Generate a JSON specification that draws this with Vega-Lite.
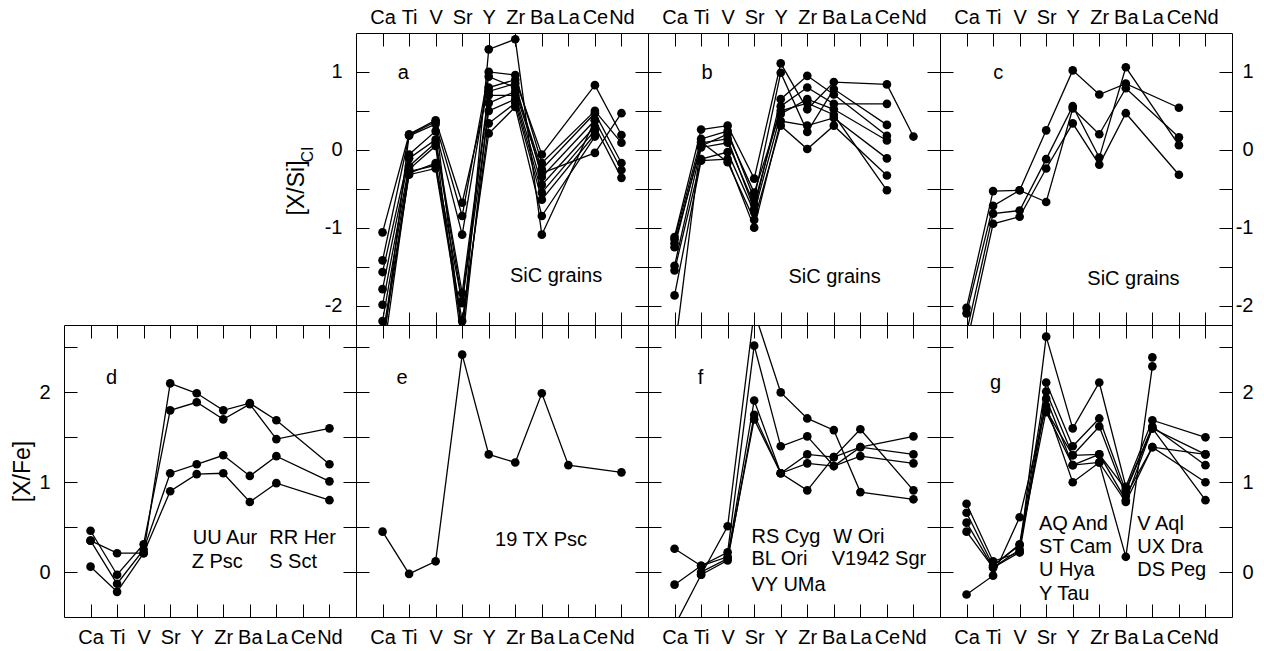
{
"$schema":"https://vega.github.io/schema/vega-lite/v6.json",
"padding":{"left":11,"top":6,"right":5,"bottom":5},
"background":"white",
"config":{
 "view":{"stroke":"black","strokeWidth":1},
 "axis":{"domain":false,"grid":false,"tickColor":"black","tickSize":-13,"tickWidth":1,"labelColor":"black","labelFont":"Liberation Sans","labelFontSize":20,"titleFont":"Liberation Sans","titleFontSize":23,"titleFontWeight":"normal","titleColor":"black","labelFlush":false,"labelOverlap":false,"labelBound":false},
 "text":{"font":"Liberation Sans","fontSize":20,"color":"black"}
},
"datasets":{
"lines":[
{"p":"a","s":"a1","i":0,"v":-1.06},{"p":"a","s":"a1","i":1,"v":0.20},{"p":"a","s":"a1","i":2,"v":0.38},{"p":"a","s":"a1","i":3,"v":-0.68},{"p":"a","s":"a1","i":4,"v":0.80},{"p":"a","s":"a1","i":5,"v":0.90},{"p":"a","s":"a1","i":6,"v":-0.06},{"p":"a","s":"a1","i":8,"v":0.83},{"p":"a","s":"a1","i":9,"v":0.19},
{"p":"a","s":"a2","i":0,"v":-1.42},{"p":"a","s":"a2","i":1,"v":0.18},{"p":"a","s":"a2","i":2,"v":0.33},{"p":"a","s":"a2","i":3,"v":-0.85},{"p":"a","s":"a2","i":4,"v":1.00},{"p":"a","s":"a2","i":5,"v":0.96},{"p":"a","s":"a2","i":6,"v":-0.17},{"p":"a","s":"a2","i":8,"v":0.50},{"p":"a","s":"a2","i":9,"v":0.09},
{"p":"a","s":"a3","i":0,"v":-1.57},{"p":"a","s":"a3","i":1,"v":-0.06},{"p":"a","s":"a3","i":2,"v":0.24},{"p":"a","s":"a3","i":3,"v":-1.09},{"p":"a","s":"a3","i":4,"v":0.94},{"p":"a","s":"a3","i":5,"v":0.80},{"p":"a","s":"a3","i":6,"v":-0.25},{"p":"a","s":"a3","i":8,"v":0.47},{"p":"a","s":"a3","i":9,"v":-0.17},
{"p":"a","s":"a4","i":0,"v":-1.79},{"p":"a","s":"a4","i":1,"v":-0.11},{"p":"a","s":"a4","i":2,"v":0.13},{"p":"a","s":"a4","i":3,"v":-1.84},{"p":"a","s":"a4","i":4,"v":0.75},{"p":"a","s":"a4","i":5,"v":0.85},{"p":"a","s":"a4","i":6,"v":-0.35},{"p":"a","s":"a4","i":8,"v":0.38},{"p":"a","s":"a4","i":9,"v":-0.26},
{"p":"a","s":"a5","i":0,"v":-1.99},{"p":"a","s":"a5","i":1,"v":-0.21},{"p":"a","s":"a5","i":2,"v":0.09},{"p":"a","s":"a5","i":3,"v":-1.94},{"p":"a","s":"a5","i":4,"v":0.70},{"p":"a","s":"a5","i":5,"v":0.70},{"p":"a","s":"a5","i":6,"v":-0.45},{"p":"a","s":"a5","i":8,"v":0.30},{"p":"a","s":"a5","i":9,"v":-0.36},
{"p":"a","s":"a6","i":0,"v":-2.40},{"p":"a","s":"a6","i":1,"v":-0.30},{"p":"a","s":"a6","i":2,"v":-0.17},{"p":"a","s":"a6","i":3,"v":-1.97},{"p":"a","s":"a6","i":4,"v":0.50},{"p":"a","s":"a6","i":5,"v":0.65},{"p":"a","s":"a6","i":6,"v":-0.55},{"p":"a","s":"a6","i":8,"v":0.25},
{"p":"a","s":"a7","i":0,"v":-2.50},{"p":"a","s":"a7","i":1,"v":-0.32},{"p":"a","s":"a7","i":2,"v":-0.24},{"p":"a","s":"a7","i":3,"v":-2.30},{"p":"a","s":"a7","i":4,"v":0.34},{"p":"a","s":"a7","i":5,"v":0.60},{"p":"a","s":"a7","i":6,"v":-0.64},{"p":"a","s":"a7","i":8,"v":0.20},
{"p":"a","s":"a8","i":0,"v":-2.60},{"p":"a","s":"a8","i":1,"v":0.19},{"p":"a","s":"a8","i":2,"v":0.36},{"p":"a","s":"a8","i":3,"v":-2.40},{"p":"a","s":"a8","i":4,"v":1.29},{"p":"a","s":"a8","i":5,"v":1.42},{"p":"a","s":"a8","i":6,"v":-1.09},{"p":"a","s":"a8","i":8,"v":0.38},
{"p":"a","s":"a9","i":0,"v":-2.70},{"p":"a","s":"a9","i":1,"v":-0.28},{"p":"a","s":"a9","i":2,"v":-0.20},{"p":"a","s":"a9","i":3,"v":-2.20},{"p":"a","s":"a9","i":4,"v":0.21},{"p":"a","s":"a9","i":5,"v":0.55},{"p":"a","s":"a9","i":6,"v":-0.85},{"p":"a","s":"a9","i":8,"v":0.17},
{"p":"a","s":"a10","i":0,"v":-2.20},{"p":"a","s":"a10","i":1,"v":-0.25},{"p":"a","s":"a10","i":2,"v":0.05},{"p":"a","s":"a10","i":3,"v":-2.50},{"p":"a","s":"a10","i":4,"v":0.60},{"p":"a","s":"a10","i":5,"v":0.75},{"p":"a","s":"a10","i":6,"v":-0.30},{"p":"a","s":"a10","i":8,"v":-0.04},{"p":"a","s":"a10","i":9,"v":0.47},
{"p":"b","s":"b1","i":0,"v":-1.12},{"p":"b","s":"b1","i":1,"v":0.26},{"p":"b","s":"b1","i":2,"v":0.31},{"p":"b","s":"b1","i":3,"v":-0.37},{"p":"b","s":"b1","i":4,"v":1.11},{"p":"b","s":"b1","i":5,"v":0.52},{"p":"b","s":"b1","i":6,"v":0.87},{"p":"b","s":"b1","i":8,"v":0.84},{"p":"b","s":"b1","i":9,"v":0.17},
{"p":"b","s":"b2","i":0,"v":-1.15},{"p":"b","s":"b2","i":1,"v":0.14},{"p":"b","s":"b2","i":2,"v":0.24},{"p":"b","s":"b2","i":3,"v":-0.63},{"p":"b","s":"b2","i":4,"v":0.99},{"p":"b","s":"b2","i":5,"v":0.23},{"p":"b","s":"b2","i":6,"v":0.78},{"p":"b","s":"b2","i":8,"v":0.32},
{"p":"b","s":"b3","i":0,"v":-1.25},{"p":"b","s":"b3","i":1,"v":0.09},{"p":"b","s":"b3","i":2,"v":0.14},{"p":"b","s":"b3","i":3,"v":-0.76},{"p":"b","s":"b3","i":4,"v":0.65},{"p":"b","s":"b3","i":5,"v":0.95},{"p":"b","s":"b3","i":6,"v":0.71},{"p":"b","s":"b3","i":8,"v":0.18},
{"p":"b","s":"b4","i":0,"v":-1.49},{"p":"b","s":"b4","i":1,"v":0.03},{"p":"b","s":"b4","i":2,"v":0.09},{"p":"b","s":"b4","i":3,"v":-0.70},{"p":"b","s":"b4","i":4,"v":0.56},{"p":"b","s":"b4","i":5,"v":0.80},{"p":"b","s":"b4","i":6,"v":0.59},{"p":"b","s":"b4","i":8,"v":0.59},
{"p":"b","s":"b5","i":0,"v":-1.55},{"p":"b","s":"b5","i":1,"v":-0.12},{"p":"b","s":"b5","i":2,"v":-0.03},{"p":"b","s":"b5","i":3,"v":-0.80},{"p":"b","s":"b5","i":4,"v":0.46},{"p":"b","s":"b5","i":5,"v":0.65},{"p":"b","s":"b5","i":6,"v":0.52},{"p":"b","s":"b5","i":8,"v":0.12},
{"p":"b","s":"b6","i":0,"v":-1.87},{"p":"b","s":"b6","i":1,"v":-0.14},{"p":"b","s":"b6","i":2,"v":-0.12},{"p":"b","s":"b6","i":3,"v":-1.00},{"p":"b","s":"b6","i":4,"v":0.37},{"p":"b","s":"b6","i":5,"v":0.31},{"p":"b","s":"b6","i":6,"v":0.41},{"p":"b","s":"b6","i":8,"v":-0.11},
{"p":"b","s":"b7","i":0,"v":-2.60},{"p":"b","s":"b7","i":1,"v":0.10},{"p":"b","s":"b7","i":2,"v":-0.16},{"p":"b","s":"b7","i":3,"v":-0.90},{"p":"b","s":"b7","i":4,"v":0.31},{"p":"b","s":"b7","i":5,"v":0.01},{"p":"b","s":"b7","i":6,"v":0.31},{"p":"b","s":"b7","i":8,"v":-0.33},
{"p":"b","s":"b8","i":0,"v":-1.20},{"p":"b","s":"b8","i":1,"v":0.05},{"p":"b","s":"b8","i":2,"v":0.20},{"p":"b","s":"b8","i":3,"v":-0.55},{"p":"b","s":"b8","i":4,"v":0.50},{"p":"b","s":"b8","i":5,"v":0.60},{"p":"b","s":"b8","i":6,"v":0.45},{"p":"b","s":"b8","i":8,"v":-0.52},
{"p":"c","s":"c1","i":0,"v":-2.03},{"p":"c","s":"c1","i":1,"v":-0.53},{"p":"c","s":"c1","i":2,"v":-0.52},{"p":"c","s":"c1","i":3,"v":-0.67},{"p":"c","s":"c1","i":4,"v":0.53},{"p":"c","s":"c1","i":5,"v":0.20},{"p":"c","s":"c1","i":6,"v":0.79},{"p":"c","s":"c1","i":8,"v":0.16},
{"p":"c","s":"c2","i":0,"v":-2.10},{"p":"c","s":"c2","i":1,"v":-0.72},{"p":"c","s":"c2","i":2,"v":-0.52},{"p":"c","s":"c2","i":3,"v":0.25},{"p":"c","s":"c2","i":4,"v":1.02},{"p":"c","s":"c2","i":5,"v":0.71},{"p":"c","s":"c2","i":6,"v":0.85},{"p":"c","s":"c2","i":8,"v":0.54},
{"p":"c","s":"c3","i":0,"v":-2.35},{"p":"c","s":"c3","i":1,"v":-0.82},{"p":"c","s":"c3","i":2,"v":-0.78},{"p":"c","s":"c3","i":3,"v":-0.12},{"p":"c","s":"c3","i":4,"v":0.56},{"p":"c","s":"c3","i":5,"v":-0.10},{"p":"c","s":"c3","i":6,"v":1.06},{"p":"c","s":"c3","i":8,"v":0.06},
{"p":"c","s":"c4","i":0,"v":-2.50},{"p":"c","s":"c4","i":1,"v":-0.95},{"p":"c","s":"c4","i":2,"v":-0.86},{"p":"c","s":"c4","i":3,"v":-0.24},{"p":"c","s":"c4","i":4,"v":0.34},{"p":"c","s":"c4","i":5,"v":-0.19},{"p":"c","s":"c4","i":6,"v":0.47},{"p":"c","s":"c4","i":8,"v":-0.32},
{"p":"d","s":"d1","i":0,"v":0.35},{"p":"d","s":"d1","i":1,"v":0.21},{"p":"d","s":"d1","i":2,"v":0.21},{"p":"d","s":"d1","i":3,"v":2.10},{"p":"d","s":"d1","i":4,"v":1.99},{"p":"d","s":"d1","i":5,"v":1.80},{"p":"d","s":"d1","i":6,"v":1.88},{"p":"d","s":"d1","i":7,"v":1.69},{"p":"d","s":"d1","i":9,"v":1.20},
{"p":"d","s":"d2","i":0,"v":0.46},{"p":"d","s":"d2","i":1,"v":-0.03},{"p":"d","s":"d2","i":2,"v":0.31},{"p":"d","s":"d2","i":3,"v":1.80},{"p":"d","s":"d2","i":4,"v":1.89},{"p":"d","s":"d2","i":5,"v":1.70},{"p":"d","s":"d2","i":6,"v":1.87},{"p":"d","s":"d2","i":7,"v":1.48},{"p":"d","s":"d2","i":9,"v":1.60},
{"p":"d","s":"d3","i":0,"v":0.35},{"p":"d","s":"d3","i":1,"v":-0.13},{"p":"d","s":"d3","i":2,"v":0.25},{"p":"d","s":"d3","i":3,"v":1.10},{"p":"d","s":"d3","i":4,"v":1.20},{"p":"d","s":"d3","i":5,"v":1.30},{"p":"d","s":"d3","i":6,"v":1.07},{"p":"d","s":"d3","i":7,"v":1.29},{"p":"d","s":"d3","i":9,"v":1.01},
{"p":"d","s":"d4","i":0,"v":0.06},{"p":"d","s":"d4","i":1,"v":-0.22},{"p":"d","s":"d4","i":2,"v":0.21},{"p":"d","s":"d4","i":3,"v":0.90},{"p":"d","s":"d4","i":4,"v":1.09},{"p":"d","s":"d4","i":5,"v":1.10},{"p":"d","s":"d4","i":6,"v":0.78},{"p":"d","s":"d4","i":7,"v":0.99},{"p":"d","s":"d4","i":9,"v":0.80},
{"p":"e","s":"e1","i":0,"v":0.45},{"p":"e","s":"e1","i":1,"v":-0.02},{"p":"e","s":"e1","i":2,"v":0.12},{"p":"e","s":"e1","i":3,"v":2.42},{"p":"e","s":"e1","i":4,"v":1.31},{"p":"e","s":"e1","i":5,"v":1.22},{"p":"e","s":"e1","i":6,"v":1.99},{"p":"e","s":"e1","i":7,"v":1.19},{"p":"e","s":"e1","i":9,"v":1.11},
{"p":"f","s":"f1","i":0,"v":-0.60},{"p":"f","s":"f1","i":1,"v":-0.03},{"p":"f","s":"f1","i":2,"v":0.51},{"p":"f","s":"f1","i":3,"v":2.90},{"p":"f","s":"f1","i":4,"v":2.00},{"p":"f","s":"f1","i":5,"v":1.71},{"p":"f","s":"f1","i":6,"v":1.58},{"p":"f","s":"f1","i":7,"v":0.89},{"p":"f","s":"f1","i":9,"v":0.81},
{"p":"f","s":"f2","i":0,"v":0.26},{"p":"f","s":"f2","i":1,"v":0.07},{"p":"f","s":"f2","i":2,"v":0.22},{"p":"f","s":"f2","i":3,"v":2.52},{"p":"f","s":"f2","i":4,"v":1.40},{"p":"f","s":"f2","i":5,"v":1.51},{"p":"f","s":"f2","i":6,"v":1.18},{"p":"f","s":"f2","i":7,"v":1.39},{"p":"f","s":"f2","i":9,"v":1.31},
{"p":"f","s":"f3","i":0,"v":-0.14},{"p":"f","s":"f3","i":1,"v":0.07},{"p":"f","s":"f3","i":2,"v":0.17},{"p":"f","s":"f3","i":3,"v":1.91},{"p":"f","s":"f3","i":4,"v":1.10},{"p":"f","s":"f3","i":5,"v":1.31},{"p":"f","s":"f3","i":6,"v":1.28},{"p":"f","s":"f3","i":7,"v":1.39},{"p":"f","s":"f3","i":9,"v":1.51},
{"p":"f","s":"f4","i":1,"v":-0.03},{"p":"f","s":"f4","i":2,"v":0.13},{"p":"f","s":"f4","i":3,"v":1.75},{"p":"f","s":"f4","i":4,"v":1.10},{"p":"f","s":"f4","i":5,"v":0.91},{"p":"f","s":"f4","i":6,"v":1.28},{"p":"f","s":"f4","i":7,"v":1.59},{"p":"f","s":"f4","i":9,"v":0.91},
{"p":"f","s":"f5","i":1,"v":0.00},{"p":"f","s":"f5","i":2,"v":0.15},{"p":"f","s":"f5","i":3,"v":1.70},{"p":"f","s":"f5","i":4,"v":1.10},{"p":"f","s":"f5","i":5,"v":1.21},{"p":"f","s":"f5","i":6,"v":1.18},{"p":"f","s":"f5","i":7,"v":1.29},{"p":"f","s":"f5","i":9,"v":1.21},
{"p":"g","s":"g1","i":0,"v":0.76},{"p":"g","s":"g1","i":1,"v":0.12},{"p":"g","s":"g1","i":2,"v":0.22},{"p":"g","s":"g1","i":3,"v":2.62},{"p":"g","s":"g1","i":4,"v":1.60},{"p":"g","s":"g1","i":5,"v":2.11},{"p":"g","s":"g1","i":6,"v":0.95},{"p":"g","s":"g1","i":7,"v":1.69},{"p":"g","s":"g1","i":9,"v":1.50},
{"p":"g","s":"g2","i":0,"v":0.66},{"p":"g","s":"g2","i":1,"v":0.07},{"p":"g","s":"g2","i":2,"v":0.31},{"p":"g","s":"g2","i":3,"v":2.11},{"p":"g","s":"g2","i":4,"v":1.40},{"p":"g","s":"g2","i":5,"v":1.71},{"p":"g","s":"g2","i":6,"v":0.90},{"p":"g","s":"g2","i":7,"v":1.60},{"p":"g","s":"g2","i":9,"v":1.31},
{"p":"g","s":"g3","i":0,"v":0.55},{"p":"g","s":"g3","i":1,"v":0.05},{"p":"g","s":"g3","i":2,"v":0.25},{"p":"g","s":"g3","i":3,"v":2.01},{"p":"g","s":"g3","i":4,"v":1.30},{"p":"g","s":"g3","i":5,"v":1.62},{"p":"g","s":"g3","i":6,"v":0.85},{"p":"g","s":"g3","i":7,"v":1.39},{"p":"g","s":"g3","i":9,"v":1.31},
{"p":"g","s":"g4","i":0,"v":0.45},{"p":"g","s":"g4","i":1,"v":0.05},{"p":"g","s":"g4","i":2,"v":0.22},{"p":"g","s":"g4","i":3,"v":1.93},{"p":"g","s":"g4","i":4,"v":1.19},{"p":"g","s":"g4","i":5,"v":1.31},{"p":"g","s":"g4","i":6,"v":0.80},{"p":"g","s":"g4","i":7,"v":1.60},{"p":"g","s":"g4","i":9,"v":0.80},
{"p":"g","s":"g5","i":0,"v":-0.25},{"p":"g","s":"g5","i":1,"v":-0.04},{"p":"g","s":"g5","i":2,"v":0.61},{"p":"g","s":"g5","i":3,"v":1.85},{"p":"g","s":"g5","i":4,"v":1.00},{"p":"g","s":"g5","i":5,"v":1.22},{"p":"g","s":"g5","i":6,"v":0.17},{"p":"g","s":"g5","i":7,"v":2.29},
{"p":"g","s":"g6","i":1,"v":0.07},{"p":"g","s":"g6","i":2,"v":0.30},{"p":"g","s":"g6","i":3,"v":1.80},{"p":"g","s":"g6","i":4,"v":1.30},{"p":"g","s":"g6","i":5,"v":1.31},{"p":"g","s":"g6","i":6,"v":0.92},{"p":"g","s":"g6","i":7,"v":1.62},{"p":"g","s":"g6","i":9,"v":1.19},
{"p":"g","s":"g7","i":3,"v":1.78},{"p":"g","s":"g7","i":4,"v":1.19},{"p":"g","s":"g7","i":5,"v":1.22},{"p":"g","s":"g7","i":6,"v":0.78},{"p":"g","s":"g7","i":7,"v":1.39},{"p":"g","s":"g7","i":9,"v":1.00},
{"p":"g","s":"g8","i":7,"v":2.39}
],
"notes":[
{"p":"a","x":0.57,"y":0.99,"t":"a"},{"p":"a","x":4.8,"y":-1.62,"t":"SiC grains"},
{"p":"b","x":1.02,"y":0.99,"t":"b"},{"p":"b","x":4.29,"y":-1.63,"t":"SiC grains"},
{"p":"c","x":1.01,"y":0.99,"t":"c"},{"p":"c","x":4.55,"y":-1.66,"t":"SiC grains"},
{"p":"d","x":0.58,"y":2.16,"t":"d"},{"p":"d","x":3.85,"y":0.375,"t":"UU Aur"},{"p":"d","x":6.73,"y":0.375,"t":"RR Her"},{"p":"d","x":3.81,"y":0.115,"t":"Z Psc"},{"p":"d","x":6.73,"y":0.115,"t":"S Sct"},
{"p":"e","x":0.53,"y":2.16,"t":"e"},{"p":"e","x":4.24,"y":0.36,"t":"19 TX Psc"},
{"p":"f","x":0.87,"y":2.16,"t":"f"},{"p":"f","x":2.9,"y":0.39,"t":"RS Cyg"},{"p":"f","x":5.98,"y":0.39,"t":"W Ori"},{"p":"f","x":2.9,"y":0.15,"t":"BL Ori"},{"p":"f","x":5.92,"y":0.15,"t":"V1942 Sgr"},{"p":"f","x":2.9,"y":-0.14,"t":"VY UMa"},
{"p":"g","x":0.88,"y":2.1,"t":"g"},{"p":"g","x":2.73,"y":0.53,"t":"AQ And"},{"p":"g","x":2.73,"y":0.28,"t":"ST Cam"},{"p":"g","x":2.73,"y":0.02,"t":"U Hya"},{"p":"g","x":2.73,"y":-0.245,"t":"Y Tau"},{"p":"g","x":6.43,"y":0.53,"t":"V Aql"},{"p":"g","x":6.43,"y":0.28,"t":"UX Dra"},{"p":"g","x":6.43,"y":0.02,"t":"DS Peg"}
],
"ylab":[{"x":-3.23,"y":-0.49,"t":"[X/Si]"}],
"ysub":[{"x":-2.8,"y":-0.06,"t":"CI"}]
},
"concat":[
{"width":292,"height":292,"view":{"stroke":null},"data":{"values":[{"t":""}]},"mark":{"type":"text"},"encoding":{"text":{"field":"t"}}},
{"width":292,"height":292,
 "layer":[
  {"data":{"name":"lines"},"transform":[{"filter":"datum.p=='a'"}],"mark":{"type":"line","color":"black","strokeWidth":1.3,"clip":true},
   "encoding":{"x":{"field":"i","type":"quantitative","scale":{"domain":[-1,10],"nice":false,"zero":false},"axis":{"orient":"bottom","values":[0,1,2,3,4,5,6,7,8,9],"labels":false,"title":null}},
    "y":{"field":"v","type":"quantitative","scale":{"domain":[-2.25,1.5],"nice":false,"zero":false},"axis":{"orient":"left","values":[-2,-1.5,-1,-0.5,0,0.5,1],"labelExpr":"datum.value % 1 == 0 ? '' + datum.value : ''","labelPadding":27,"title":null}},
    "detail":{"field":"s","type":"nominal"}}},
  {"data":{"name":"lines"},"transform":[{"filter":"datum.p=='a'"}],"mark":{"type":"circle","color":"black","size":75,"opacity":1,"clip":true},
   "encoding":{"x":{"field":"i","type":"quantitative","scale":{"domain":[-1,10],"nice":false,"zero":false},"axis":{"orient":"top","values":[0,1,2,3,4,5,6,7,8,9],"labelExpr":"['Ca','Ti','V','Sr','Y','Zr','Ba','La','Ce','Nd'][datum.value]","labelPadding":19,"title":null}},
    "y":{"field":"v","type":"quantitative","scale":{"domain":[-2.25,1.5],"nice":false,"zero":false},"axis":{"orient":"right","values":[-2,-1.5,-1,-0.5,0,0.5,1],"labels":false,"title":null}}}},
  {"data":{"name":"notes"},"transform":[{"filter":"datum.p=='a'"}],"mark":{"type":"text","align":"left","baseline":"middle"},
   "encoding":{"x":{"field":"x","type":"quantitative","scale":{"domain":[-1,10],"nice":false,"zero":false},"axis":null},"y":{"field":"y","type":"quantitative","scale":{"domain":[-2.25,1.5],"nice":false,"zero":false},"axis":null},"text":{"field":"t"}}},
  {"data":{"name":"ylab"},"mark":{"type":"text","align":"center","baseline":"middle","angle":270,"fontSize":23},
   "encoding":{"x":{"field":"x","type":"quantitative","scale":{"domain":[-1,10],"nice":false,"zero":false},"axis":null},"y":{"field":"y","type":"quantitative","scale":{"domain":[-2.25,1.5],"nice":false,"zero":false},"axis":null},"text":{"field":"t"}}},
  {"data":{"name":"ysub"},"mark":{"type":"text","align":"center","baseline":"middle","angle":270,"fontSize":16},
   "encoding":{"x":{"field":"x","type":"quantitative","scale":{"domain":[-1,10],"nice":false,"zero":false},"axis":null},"y":{"field":"y","type":"quantitative","scale":{"domain":[-2.25,1.5],"nice":false,"zero":false},"axis":null},"text":{"field":"t"}}}
 ],
 "resolve":{"axis":{"x":"independent","y":"independent"}}},
{"width":292,"height":292,
 "layer":[
  {"data":{"name":"lines"},"transform":[{"filter":"datum.p=='b'"}],"mark":{"type":"line","color":"black","strokeWidth":1.3,"clip":true},
   "encoding":{"x":{"field":"i","type":"quantitative","scale":{"domain":[-1,10],"nice":false,"zero":false},"axis":{"orient":"bottom","values":[0,1,2,3,4,5,6,7,8,9],"labels":false,"title":null}},
    "y":{"field":"v","type":"quantitative","scale":{"domain":[-2.25,1.5],"nice":false,"zero":false},"axis":{"orient":"left","values":[-2,-1.5,-1,-0.5,0,0.5,1],"labels":false,"title":null}},
    "detail":{"field":"s","type":"nominal"}}},
  {"data":{"name":"lines"},"transform":[{"filter":"datum.p=='b'"}],"mark":{"type":"circle","color":"black","size":75,"opacity":1,"clip":true},
   "encoding":{"x":{"field":"i","type":"quantitative","scale":{"domain":[-1,10],"nice":false,"zero":false},"axis":{"orient":"top","values":[0,1,2,3,4,5,6,7,8,9],"labelExpr":"['Ca','Ti','V','Sr','Y','Zr','Ba','La','Ce','Nd'][datum.value]","labelPadding":19,"title":null}},
    "y":{"field":"v","type":"quantitative","scale":{"domain":[-2.25,1.5],"nice":false,"zero":false},"axis":{"orient":"right","values":[-2,-1.5,-1,-0.5,0,0.5,1],"labels":false,"title":null}}}},
  {"data":{"name":"notes"},"transform":[{"filter":"datum.p=='b'"}],"mark":{"type":"text","align":"left","baseline":"middle"},
   "encoding":{"x":{"field":"x","type":"quantitative","scale":{"domain":[-1,10],"nice":false,"zero":false},"axis":null},"y":{"field":"y","type":"quantitative","scale":{"domain":[-2.25,1.5],"nice":false,"zero":false},"axis":null},"text":{"field":"t"}}}
 ],
 "resolve":{"axis":{"x":"independent","y":"independent"}}},
{"width":292,"height":292,
 "layer":[
  {"data":{"name":"lines"},"transform":[{"filter":"datum.p=='c'"}],"mark":{"type":"line","color":"black","strokeWidth":1.3,"clip":true},
   "encoding":{"x":{"field":"i","type":"quantitative","scale":{"domain":[-1,10],"nice":false,"zero":false},"axis":{"orient":"bottom","values":[0,1,2,3,4,5,6,7,8,9],"labels":false,"title":null}},
    "y":{"field":"v","type":"quantitative","scale":{"domain":[-2.25,1.5],"nice":false,"zero":false},"axis":{"orient":"left","values":[-2,-1.5,-1,-0.5,0,0.5,1],"labels":false,"title":null}},
    "detail":{"field":"s","type":"nominal"}}},
  {"data":{"name":"lines"},"transform":[{"filter":"datum.p=='c'"}],"mark":{"type":"circle","color":"black","size":75,"opacity":1,"clip":true},
   "encoding":{"x":{"field":"i","type":"quantitative","scale":{"domain":[-1,10],"nice":false,"zero":false},"axis":{"orient":"top","values":[0,1,2,3,4,5,6,7,8,9],"labelExpr":"['Ca','Ti','V','Sr','Y','Zr','Ba','La','Ce','Nd'][datum.value]","labelPadding":19,"title":null}},
    "y":{"field":"v","type":"quantitative","scale":{"domain":[-2.25,1.5],"nice":false,"zero":false},"axis":{"orient":"right","values":[-2,-1.5,-1,-0.5,0,0.5,1],"labelExpr":"datum.value % 1 == 0 ? '' + datum.value : ''","labelAlign":"right","labelPadding":34,"title":null}}}},
  {"data":{"name":"notes"},"transform":[{"filter":"datum.p=='c'"}],"mark":{"type":"text","align":"left","baseline":"middle"},
   "encoding":{"x":{"field":"x","type":"quantitative","scale":{"domain":[-1,10],"nice":false,"zero":false},"axis":null},"y":{"field":"y","type":"quantitative","scale":{"domain":[-2.25,1.5],"nice":false,"zero":false},"axis":null},"text":{"field":"t"}}}
 ],
 "resolve":{"axis":{"x":"independent","y":"independent"}}},
{"width":292,"height":292,
 "layer":[
  {"data":{"name":"lines"},"transform":[{"filter":"datum.p=='d'"}],"mark":{"type":"line","color":"black","strokeWidth":1.3,"clip":true},
   "encoding":{"x":{"field":"i","type":"quantitative","scale":{"domain":[-1,10],"nice":false,"zero":false},"axis":{"orient":"bottom","values":[0,1,2,3,4,5,6,7,8,9],"labelExpr":"['Ca','Ti','V','Sr','Y','Zr','Ba','La','Ce','Nd'][datum.value]","labelPadding":23,"title":null}},
    "y":{"field":"v","type":"quantitative","scale":{"domain":[-0.5,2.75],"nice":false,"zero":false},"axis":{"orient":"left","values":[0,0.5,1,1.5,2,2.5],"labelExpr":"datum.value % 1 == 0 ? '' + datum.value : ''","labelPadding":27,"title":"[X/Fe]","titlePadding":4}},
    "detail":{"field":"s","type":"nominal"}}},
  {"data":{"name":"lines"},"transform":[{"filter":"datum.p=='d'"}],"mark":{"type":"circle","color":"black","size":75,"opacity":1,"clip":true},
   "encoding":{"x":{"field":"i","type":"quantitative","scale":{"domain":[-1,10],"nice":false,"zero":false},"axis":{"orient":"top","values":[0,1,2,3,4,5,6,7,8,9],"labels":false,"title":null}},
    "y":{"field":"v","type":"quantitative","scale":{"domain":[-0.5,2.75],"nice":false,"zero":false},"axis":{"orient":"right","values":[0,0.5,1,1.5,2,2.5],"labels":false,"title":null}}}},
  {"data":{"name":"notes"},"transform":[{"filter":"datum.p=='d'"}],"mark":{"type":"text","align":"left","baseline":"middle"},
   "encoding":{"x":{"field":"x","type":"quantitative","scale":{"domain":[-1,10],"nice":false,"zero":false},"axis":null},"y":{"field":"y","type":"quantitative","scale":{"domain":[-0.5,2.75],"nice":false,"zero":false},"axis":null},"text":{"field":"t"}}}
 ],
 "resolve":{"axis":{"x":"independent","y":"independent"}}},
{"width":292,"height":292,
 "layer":[
  {"data":{"name":"lines"},"transform":[{"filter":"datum.p=='e'"}],"mark":{"type":"line","color":"black","strokeWidth":1.3,"clip":true},
   "encoding":{"x":{"field":"i","type":"quantitative","scale":{"domain":[-1,10],"nice":false,"zero":false},"axis":{"orient":"bottom","values":[0,1,2,3,4,5,6,7,8,9],"labelExpr":"['Ca','Ti','V','Sr','Y','Zr','Ba','La','Ce','Nd'][datum.value]","labelPadding":23,"title":null}},
    "y":{"field":"v","type":"quantitative","scale":{"domain":[-0.5,2.75],"nice":false,"zero":false},"axis":{"orient":"left","values":[0,0.5,1,1.5,2,2.5],"labels":false,"title":null}},
    "detail":{"field":"s","type":"nominal"}}},
  {"data":{"name":"lines"},"transform":[{"filter":"datum.p=='e'"}],"mark":{"type":"circle","color":"black","size":75,"opacity":1,"clip":true},
   "encoding":{"x":{"field":"i","type":"quantitative","scale":{"domain":[-1,10],"nice":false,"zero":false},"axis":{"orient":"top","values":[0,1,2,3,4,5,6,7,8,9],"labels":false,"title":null}},
    "y":{"field":"v","type":"quantitative","scale":{"domain":[-0.5,2.75],"nice":false,"zero":false},"axis":{"orient":"right","values":[0,0.5,1,1.5,2,2.5],"labels":false,"title":null}}}},
  {"data":{"name":"notes"},"transform":[{"filter":"datum.p=='e'"}],"mark":{"type":"text","align":"left","baseline":"middle"},
   "encoding":{"x":{"field":"x","type":"quantitative","scale":{"domain":[-1,10],"nice":false,"zero":false},"axis":null},"y":{"field":"y","type":"quantitative","scale":{"domain":[-0.5,2.75],"nice":false,"zero":false},"axis":null},"text":{"field":"t"}}}
 ],
 "resolve":{"axis":{"x":"independent","y":"independent"}}},
{"width":292,"height":292,
 "layer":[
  {"data":{"name":"lines"},"transform":[{"filter":"datum.p=='f'"}],"mark":{"type":"line","color":"black","strokeWidth":1.3,"clip":true},
   "encoding":{"x":{"field":"i","type":"quantitative","scale":{"domain":[-1,10],"nice":false,"zero":false},"axis":{"orient":"bottom","values":[0,1,2,3,4,5,6,7,8,9],"labelExpr":"['Ca','Ti','V','Sr','Y','Zr','Ba','La','Ce','Nd'][datum.value]","labelPadding":23,"title":null}},
    "y":{"field":"v","type":"quantitative","scale":{"domain":[-0.5,2.75],"nice":false,"zero":false},"axis":{"orient":"left","values":[0,0.5,1,1.5,2,2.5],"labels":false,"title":null}},
    "detail":{"field":"s","type":"nominal"}}},
  {"data":{"name":"lines"},"transform":[{"filter":"datum.p=='f'"}],"mark":{"type":"circle","color":"black","size":75,"opacity":1,"clip":true},
   "encoding":{"x":{"field":"i","type":"quantitative","scale":{"domain":[-1,10],"nice":false,"zero":false},"axis":{"orient":"top","values":[0,1,2,3,4,5,6,7,8,9],"labels":false,"title":null}},
    "y":{"field":"v","type":"quantitative","scale":{"domain":[-0.5,2.75],"nice":false,"zero":false},"axis":{"orient":"right","values":[0,0.5,1,1.5,2,2.5],"labels":false,"title":null}}}},
  {"data":{"name":"notes"},"transform":[{"filter":"datum.p=='f'"}],"mark":{"type":"text","align":"left","baseline":"middle"},
   "encoding":{"x":{"field":"x","type":"quantitative","scale":{"domain":[-1,10],"nice":false,"zero":false},"axis":null},"y":{"field":"y","type":"quantitative","scale":{"domain":[-0.5,2.75],"nice":false,"zero":false},"axis":null},"text":{"field":"t"}}}
 ],
 "resolve":{"axis":{"x":"independent","y":"independent"}}},
{"width":292,"height":292,
 "layer":[
  {"data":{"name":"lines"},"transform":[{"filter":"datum.p=='g'"}],"mark":{"type":"line","color":"black","strokeWidth":1.3,"clip":true},
   "encoding":{"x":{"field":"i","type":"quantitative","scale":{"domain":[-1,10],"nice":false,"zero":false},"axis":{"orient":"bottom","values":[0,1,2,3,4,5,6,7,8,9],"labelExpr":"['Ca','Ti','V','Sr','Y','Zr','Ba','La','Ce','Nd'][datum.value]","labelPadding":23,"title":null}},
    "y":{"field":"v","type":"quantitative","scale":{"domain":[-0.5,2.75],"nice":false,"zero":false},"axis":{"orient":"left","values":[0,0.5,1,1.5,2,2.5],"labels":false,"title":null}},
    "detail":{"field":"s","type":"nominal"}}},
  {"data":{"name":"lines"},"transform":[{"filter":"datum.p=='g'"}],"mark":{"type":"circle","color":"black","size":75,"opacity":1,"clip":true},
   "encoding":{"x":{"field":"i","type":"quantitative","scale":{"domain":[-1,10],"nice":false,"zero":false},"axis":{"orient":"top","values":[0,1,2,3,4,5,6,7,8,9],"labels":false,"title":null}},
    "y":{"field":"v","type":"quantitative","scale":{"domain":[-0.5,2.75],"nice":false,"zero":false},"axis":{"orient":"right","values":[0,0.5,1,1.5,2,2.5],"labelExpr":"datum.value % 1 == 0 ? '' + datum.value : ''","labelAlign":"right","labelPadding":34,"title":null}}}},
  {"data":{"name":"notes"},"transform":[{"filter":"datum.p=='g'"}],"mark":{"type":"text","align":"left","baseline":"middle"},
   "encoding":{"x":{"field":"x","type":"quantitative","scale":{"domain":[-1,10],"nice":false,"zero":false},"axis":null},"y":{"field":"y","type":"quantitative","scale":{"domain":[-0.5,2.75],"nice":false,"zero":false},"axis":null},"text":{"field":"t"}}}
 ],
 "resolve":{"axis":{"x":"independent","y":"independent"}}}
],
"columns":4,
"spacing":0,
"bounds":"flush"
}
